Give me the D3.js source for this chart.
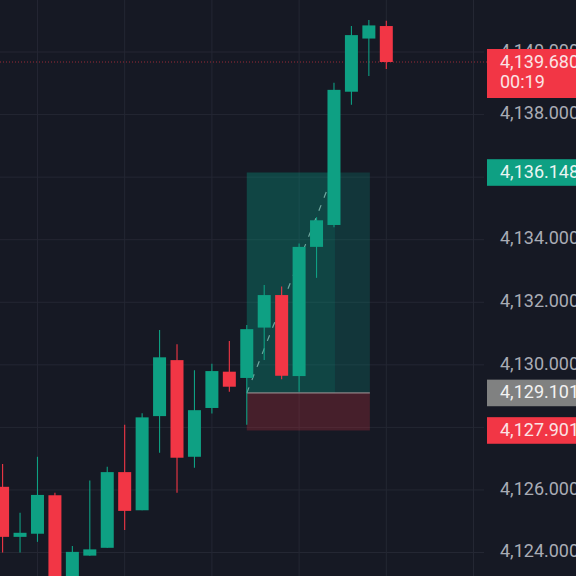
<!DOCTYPE html>
<html>
<head>
<meta charset="utf-8">
<script src="https://cdn.jsdelivr.net/npm/d3@7"></script>
<style>
  html, body { margin: 0; padding: 0; background: #161924; overflow: hidden; }
  text { font-family: Roboto, sans-serif; }
</style>
</head>
<body>
<svg id="chart" width="576" height="576"></svg>
<script>
var opens  = [4126.10,4124.50,4124.60,4125.83,4123.00,4123.90,4124.15,4126.57,4125.35,4128.36,4130.15,4127.06,4128.62,4129.78,4129.58,4131.19,4132.23,4129.64,4133.77,4134.47,4138.73,4140.43,4140.83];
var highs  = [4126.83,4125.27,4127.06,4125.91,4124.21,4126.30,4126.74,4128.08,4128.45,4131.11,4130.66,4129.83,4130.03,4130.76,4131.27,4132.55,4132.50,4133.88,4134.72,4139.02,4140.83,4141.02,4141.00];
var lows   = [4124.00,4124.00,4124.34,4123.00,4123.00,4123.90,4124.15,4124.72,4125.35,4127.19,4125.91,4126.71,4128.44,4129.14,4128.08,4130.15,4129.54,4129.14,4132.78,4134.40,4138.31,4139.23,4139.46];
var closes = [4124.50,4124.63,4125.84,4123.00,4124.02,4124.10,4126.57,4125.33,4128.32,4130.24,4127.03,4128.55,4129.80,4129.30,4131.14,4132.23,4129.65,4133.77,4134.62,4138.79,4140.54,4140.85,4139.68];

var priceTicks = [4124,4126,4128,4130,4132,4134,4136,4138,4140];
var labelTicks = [4124,4126,4130,4132,4134,4138,4140];
var timeTicks = [2,7,12,17,22,27];

var lastPrice = 4139.68;
var countdown = "00:19";
var targetPrice = 4136.148;
var entryPrice = 4129.101;
var stopPrice = 4127.901;
var boxStart = 14, boxMid = 19, boxEnd = 21;

var W = 576, H = 576, axisLeft = 484, labelLeft = 487;
var GREEN = "#0ea083", RED = "#f23645";

var x = d3.scaleLinear().domain([0, 22]).range([2.6, 386.3]);
var y = d3.scaleLinear().domain([4140, 4124]).range([52, 552.5]);
var fmt = d3.format(",.3f");
var svg = d3.select("#chart");
var bodyW = 13;

// grid
svg.selectAll(".hgrid").data(priceTicks).enter().append("line")
  .attr("class", "hgrid")
  .attr("x1", 0).attr("x2", axisLeft)
  .attr("y1", function(d){ return y(d); }).attr("y2", function(d){ return y(d); })
  .attr("stroke", "#242733").attr("stroke-width", 1);
svg.selectAll(".vgrid").data(timeTicks).enter().append("line")
  .attr("class", "vgrid")
  .attr("x1", function(d){ return x(d); }).attr("x2", function(d){ return x(d); })
  .attr("y1", 0).attr("y2", H)
  .attr("stroke", "#242733").attr("stroke-width", 1);

// position box
svg.append("rect")
  .attr("x", x(boxStart)).attr("y", y(targetPrice))
  .attr("width", x(boxEnd) - x(boxStart) + 1).attr("height", y(entryPrice) - y(targetPrice))
  .attr("fill", "#08907c").attr("fill-opacity", 0.25);
svg.append("rect")
  .attr("x", x(boxStart)).attr("y", y(targetPrice))
  .attr("width", x(boxMid) - x(boxStart) + 1).attr("height", y(entryPrice) - y(targetPrice))
  .attr("fill", "#08a086").attr("fill-opacity", 0.14);
svg.append("rect")
  .attr("x", x(boxStart)).attr("y", y(entryPrice))
  .attr("width", x(boxEnd) - x(boxStart) + 1).attr("height", y(stopPrice) - y(entryPrice))
  .attr("fill", "#f23645").attr("fill-opacity", 0.22);
svg.append("line")
  .attr("x1", x(boxStart)).attr("x2", x(boxEnd) + 1)
  .attr("y1", y(entryPrice)).attr("y2", y(entryPrice))
  .attr("stroke", "#a99a9c").attr("stroke-width", 1);
svg.append("line")
  .attr("x1", x(boxStart)).attr("x2", x(boxMid))
  .attr("y1", y(entryPrice)).attr("y2", y(targetPrice))
  .attr("stroke", "#6fa89f").attr("stroke-width", 1.2).attr("stroke-dasharray", "6 8");

// last price line
svg.append("line")
  .attr("x1", 0).attr("x2", labelLeft)
  .attr("y1", y(lastPrice)).attr("y2", y(lastPrice))
  .attr("stroke", RED).attr("stroke-opacity", 0.6).attr("stroke-width", 1).attr("stroke-dasharray", "1 2");

// candles
var candles = d3.range(opens.length);
function colour(i){ return closes[i] >= opens[i] ? GREEN : RED; }
svg.selectAll(".wick").data(candles).enter().append("line")
  .attr("class", "wick")
  .attr("x1", function(i){ return x(i); }).attr("x2", function(i){ return x(i); })
  .attr("y1", function(i){ return y(highs[i]); }).attr("y2", function(i){ return y(lows[i]); })
  .attr("stroke", colour).attr("stroke-width", 1.1);
svg.selectAll(".body").data(candles).enter().append("rect")
  .attr("class", "body")
  .attr("x", function(i){ return x(i) - bodyW / 2; })
  .attr("width", bodyW)
  .attr("y", function(i){ return y(Math.max(opens[i], closes[i])); })
  .attr("height", function(i){ return Math.abs(y(opens[i]) - y(closes[i])); })
  .attr("fill", colour);

// y axis labels
var yAxis = d3.axisRight(y).tickValues(labelTicks).tickSize(0).tickPadding(0).tickFormat(fmt);
var axisG = svg.append("g").attr("transform", "translate(500,-1.5)").call(yAxis);
axisG.select(".domain").remove();
axisG.selectAll("text").attr("fill", "#a9acb5").attr("font-size", 18);

// price tags
var tags = [
  { price: targetPrice, fill: GREEN, color: "#e9f5f2" },
  { price: entryPrice, fill: "#808181", color: "#f2f2f2" },
  { price: stopPrice, fill: RED, color: "#fbe3e5" }
];
tags.forEach(function(t){
  var cy = y(t.price);
  svg.append("rect").attr("x", labelLeft).attr("y", cy - 13.3).attr("width", W - labelLeft).attr("height", 26.6).attr("fill", t.fill);
  svg.append("text").attr("x", 500).attr("y", cy - 1).attr("dy", "0.35em")
    .attr("fill", t.color).attr("font-size", 18).text(fmt(t.price));
});

svg.append("rect").attr("x", labelLeft).attr("y", 49).attr("width", W - labelLeft).attr("height", 49).attr("fill", RED);
svg.append("text").attr("x", 500).attr("y", 68).attr("fill", "#fbe3e5").attr("font-size", 18).text(fmt(lastPrice));
svg.append("text").attr("x", 500).attr("y", 88).attr("fill", "#fbe3e5").attr("font-size", 18).text(countdown);
</script>
</body>
</html>
